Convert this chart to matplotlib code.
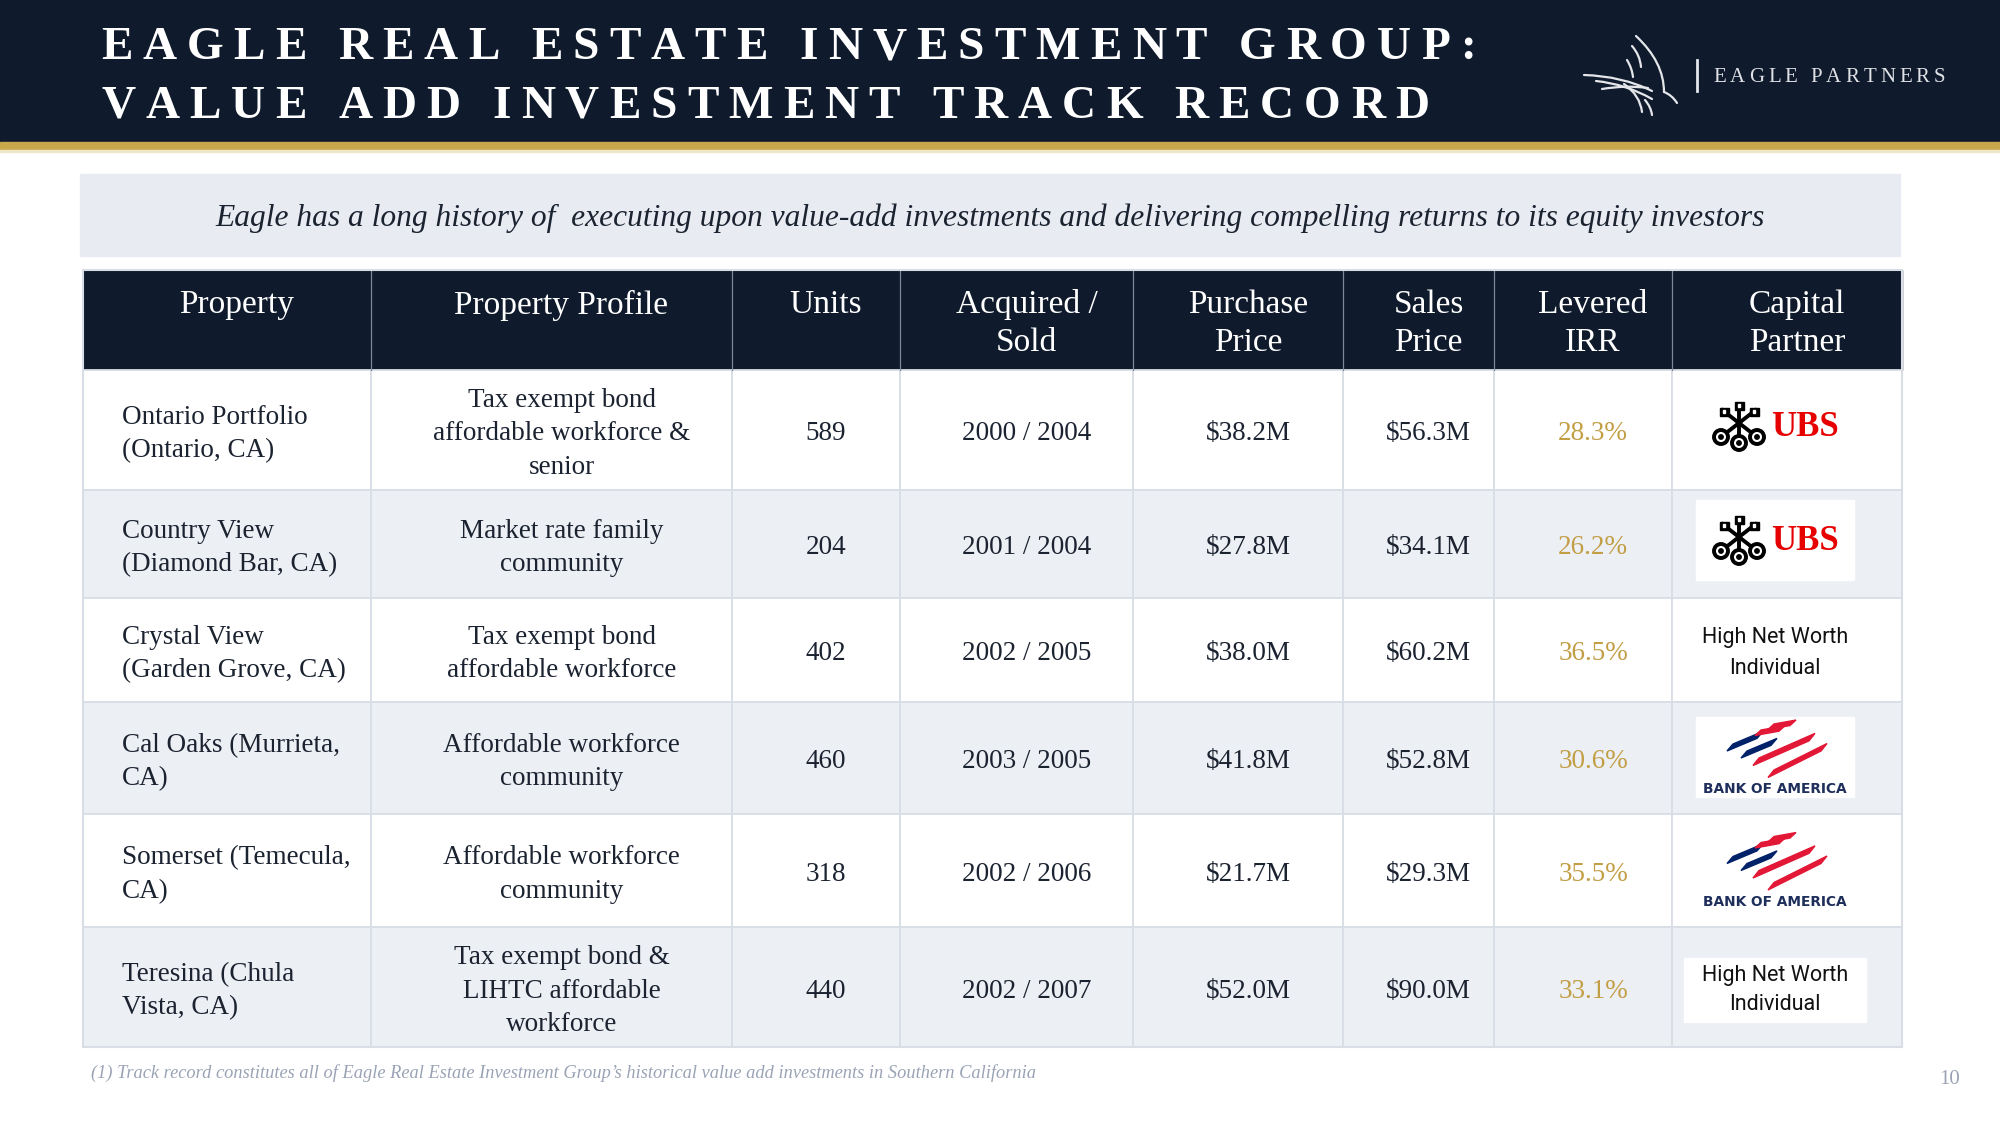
import matplotlib
matplotlib.use("Agg")
import matplotlib.pyplot as plt
from matplotlib.patches import Rectangle, Circle, Polygon, PathPatch
from matplotlib.path import Path
from matplotlib.font_manager import FontProperties, findfont
from matplotlib.ft2font import FT2Font

# table data
headers = ["Property", "Property Profile", "Units", "Acquired /\nSold",
           "Purchase\nPrice", "Sales\nPrice", "Levered\nIRR", "Capital\nPartner"]
properties = ["Ontario Portfolio\n(Ontario, CA)", "Country View\n(Diamond Bar, CA)",
              "Crystal View\n(Garden Grove, CA)", "Cal Oaks (Murrieta,\nCA)",
              "Somerset (Temecula,\nCA)", "Teresina (Chula\nVista, CA)"]
profiles = ["Tax exempt bond\naffordable workforce &\nsenior", "Market rate family\ncommunity",
            "Tax exempt bond\naffordable workforce", "Affordable workforce\ncommunity",
            "Affordable workforce\ncommunity", "Tax exempt bond &\nLIHTC affordable\nworkforce"]
units = [589, 204, 402, 460, 318, 440]
acquired = [2000, 2001, 2002, 2003, 2002, 2002]
sold = [2004, 2004, 2005, 2005, 2006, 2007]
purchase = [38.2, 27.8, 38.0, 41.8, 21.7, 52.0]
sales = [56.3, 34.1, 60.2, 52.8, 29.3, 90.0]
irr = [28.3, 26.2, 36.5, 30.6, 35.5, 33.1]
partners = ["UBS", "UBS", "HNW", "BOFA", "BOFA", "HNW"]

title_lines = ["EAGLE REAL ESTATE INVESTMENT GROUP:", "VALUE ADD INVESTMENT TRACK RECORD"]
subtitle = ("Eagle has a long history of  executing upon value-add investments and "
            "delivering compelling returns to its equity investors")
footnote = ("(1) Track record constitutes all of Eagle Real Estate Investment Group\u2019s "
            "historical value add investments in Southern California")

NAVY = "#0F1B2C"
GOLD = "#C9A84C"
TXT = "#1B2230"
ALT = "#ECEFF4"
GRID = "#D9DEE6"
SERIF = "Liberation Serif"

fig = plt.figure(figsize=(20, 11.25), dpi=100)
ax = fig.add_axes([0, 0, 1, 1])
ax.set_xlim(0, 2000)
ax.set_ylim(1125, 0)
ax.axis("off")


def tracked(x, y, s, size, track, weight="normal", color="white"):
    # draw letter-spaced text, advancing by glyph widths
    fp = FontProperties(family=SERIF, size=size, weight=weight)
    font = FT2Font(findfont(fp))
    font.set_size(size, 100)
    for ch in s:
        if ch != " ":
            ax.text(x, y, ch, fontproperties=fp, color=color, ha="left", va="center")
        g = font.load_char(ord(ch))
        x += g.linearHoriAdvance / 65536 + track


# header band
ax.add_patch(Rectangle((0, 0), 2000, 142, color=NAVY, zorder=0))
ax.add_patch(Rectangle((0, 142), 2000, 8, color=GOLD, zorder=0))
ax.add_patch(Rectangle((0, 150), 2000, 2, color="#EFE6C8", zorder=0))
tracked(101, 48, title_lines[0], 34, 10, weight="bold")
tracked(101, 107, title_lines[1], 34, 10, weight="bold")

# eagle logo sketch
strokes = [((1636, 36), (1664, 62), (1664, 92)), ((1664, 92), (1672, 95), (1677, 103)),
           ((1632, 46), (1640, 55), (1641, 67)), ((1627, 60), (1632, 68), (1633, 77)),
           ((1584, 75), (1622, 76), (1652, 91)), ((1596, 81), (1626, 84), (1652, 99)),
           ((1602, 89), (1626, 85), (1648, 88)), ((1624, 84), (1640, 95), (1642, 112)),
           ((1645, 100), (1651, 107), (1652, 115))]
for p0, c, p1 in strokes:
    ax.add_patch(PathPatch(Path([p0, c, p1], [Path.MOVETO, Path.CURVE3, Path.CURVE3]),
                           fill=False, edgecolor="#E4E6EA", lw=1.6, capstyle="round"))
ax.plot([1697, 1697], [60, 91], color="#E4E6EA", lw=2)
tracked(1713, 77, "EAGLE PARTNERS", 15, 4.0, color="#E0E2E6")

# subtitle box
ax.add_patch(Rectangle((80, 174), 1820, 82, color="#E8ECF2", zorder=0))
ax.text(990, 218, subtitle, fontfamily=SERIF, style="italic", fontsize=22.7,
        color=TXT, ha="center", va="center")

# table geometry
col_edges = [83, 371, 732, 900, 1133, 1343, 1494, 1672, 1902]
row_edges = [270, 370, 490, 598, 702, 814, 927, 1047]
col_mid = [(a + b) / 2 + 10 for a, b in zip(col_edges[:-1], col_edges[1:])]

# header row
ax.add_patch(Rectangle((col_edges[0], row_edges[0]), col_edges[-1] - col_edges[0],
                       row_edges[1] - row_edges[0], color=NAVY, zorder=1))
for xe in col_edges[1:-1]:
    ax.plot([xe, xe], [row_edges[0], row_edges[1]], color="#7D8796", lw=0.9, zorder=2)
for j, h in enumerate(headers):
    for k, line in enumerate(h.split("\n")):
        ax.text(col_mid[j], 305 + 38 * k, line, fontfamily=SERIF, fontsize=24,
                color="white", ha="center", va="center", zorder=3)

# body rows
for i in range(len(properties)):
    y0, y1 = row_edges[i + 1], row_edges[i + 2]
    cy = (y0 + y1) / 2
    fc = "white" if i % 2 == 0 else ALT
    for j in range(len(col_edges) - 1):
        ax.add_patch(Rectangle((col_edges[j], y0), col_edges[j + 1] - col_edges[j], y1 - y0,
                               facecolor=fc, edgecolor=GRID, lw=1.3, zorder=1))

    def cell(x, s, ha="center", color=TXT, size=19.5):
        lines = s.split("\n")
        n = len(lines)
        for k, line in enumerate(lines):
            ax.text(x, cy + 4 + (k - (n - 1) / 2) * 33.5, line, fontfamily=SERIF, fontsize=size,
                    color=color, ha=ha, va="center", zorder=3)

    cell(122, properties[i], ha="left")
    cell(col_mid[1], profiles[i])
    cell(col_mid[2], str(units[i]))
    cell(col_mid[3], f"{acquired[i]} / {sold[i]}")
    cell(col_mid[4], f"${purchase[i]:.1f}M")
    cell(col_mid[5], f"${sales[i]:.1f}M")
    cell(col_mid[6], f"{irr[i]:.1f}%", color="#C29E45")

    # capital partner
    cx = 1775
    p = partners[i]
    if p == "HNW":
        if i % 2 == 1:
            ax.add_patch(Rectangle((1684, cy - 29), 182, 64, color="white", zorder=2))
        for k, line in enumerate(["High Net Worth", "Individual"]):
            ax.text(cx, cy - 12 + 30 * k, line, fontfamily="Roboto",
                    fontsize=15.5, color="#111111", ha="center", va="center", zorder=3)
    elif p == "UBS":
        by = cy - 44
        ax.add_patch(Rectangle((1696, by), 158, 80, color="white", zorder=2))
        ky = by + 41
        kx = cx - 35
        # three crossed keys
        shafts = [((kx - 1, ky - 25), (kx - 1, ky + 16)),
                  ((kx - 19, ky - 18), (kx + 17, ky + 10)),
                  ((kx + 17, ky - 18), (kx - 19, ky + 10))]
        for (xa, ya), (xb, yb) in shafts:
            ax.plot([xa, xb], [ya, yb], color="black", lw=2.8, zorder=3,
                    solid_capstyle="butt")
            ax.add_patch(Circle((xb, yb), 7, facecolor="white", edgecolor="black",
                                lw=2.8, zorder=4))
            ax.add_patch(Circle((xb, yb), 2.2, color="black", zorder=5))
        for bx, bby in [(kx - 1, ky - 21), (kx - 16, ky - 15), (kx + 14, ky - 15)]:
            ax.add_patch(Rectangle((bx - 4.5, bby - 4), 9, 8, color="black", zorder=4))
            ax.add_patch(Rectangle((bx - 1.2, bby - 2), 2.4, 3, color="white", zorder=5))
        ax.text(cx + 30, ky + 9, "UBS", fontfamily=SERIF, fontweight="bold", fontsize=25,
                color="#E60000", ha="center", va="baseline", zorder=3)
    else:
        by = cy - 41
        ax.add_patch(Rectangle((1696, by), 158, 80, color="white", zorder=2))

        # bank of america flag
        def stripe(x0, y0, length, slope, color, t=7, skew=6):
            pts = [(x0, y0), (x0 + length, y0 + slope * length),
                   (x0 + length - skew, y0 + slope * length + t), (x0 - skew, y0 + t)]
            ax.add_patch(Polygon(pts, closed=True, color=color, zorder=3))
        sy = by + 3
        stripe(1733, sy + 24, 30, -0.42, "#012169")
        stripe(1747, sy + 31, 30, -0.42, "#012169")
        stripe(1761, sy + 10, 24, -0.18, "#E31837", t=5.5)
        stripe(1774, sy + 4, 22, -0.18, "#E31837", t=5.5)
        stripe(1759, sy + 38, 56, -0.44, "#E31837", t=7.5)
        stripe(1774, sy + 50, 53, -0.5, "#E31837", t=7.5)
        ax.text(cx, by + 72, "BANK OF AMERICA", fontfamily="DejaVu Sans", fontweight="bold",
                fontsize=9.9, color="#1F2F5C", ha="center", va="center", zorder=3)

# outer border of the table
ax.add_patch(Rectangle((col_edges[0], row_edges[0]), col_edges[-1] - col_edges[0],
                       row_edges[-1] - row_edges[0], fill=False, edgecolor=GRID, lw=1.5, zorder=2))

# footnote and page number
ax.text(91, 1073, footnote, fontfamily=SERIF, style="italic", fontsize=13.2,
        color="#9AA3B5", ha="left", va="center")
ax.text(1950, 1079, "10", fontfamily=SERIF, fontsize=15, color="#9AA3B5",
        ha="center", va="center")

fig.savefig("out.png", dpi=100)
